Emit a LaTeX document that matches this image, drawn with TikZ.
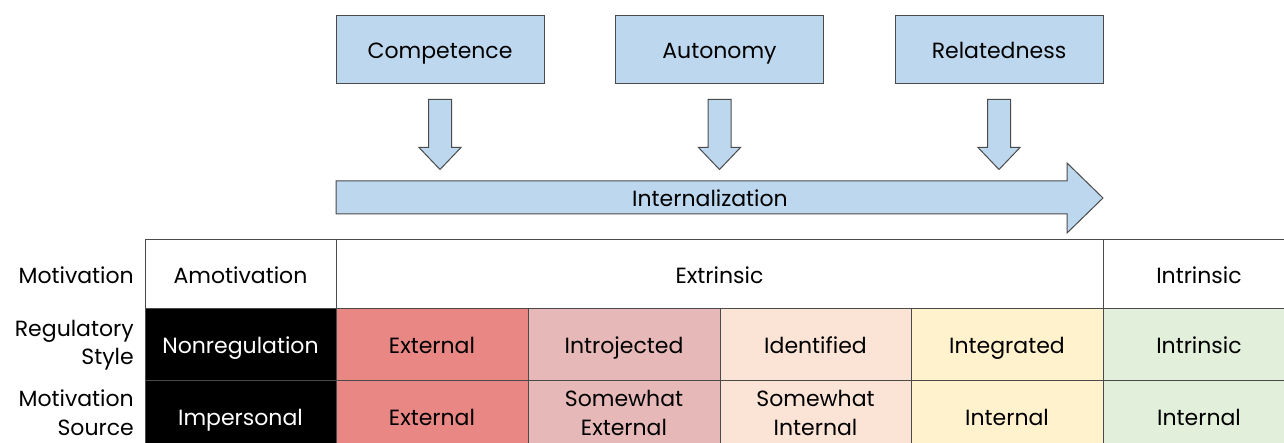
\documentclass[tikz,border=0pt]{standalone}
\usepackage{fontspec}
\setmainfont{Poppins}
\definecolor{edge}{HTML}{4A4A4A}
\definecolor{blueF}{HTML}{BDD7EE}
\definecolor{extF}{HTML}{E88784}
\definecolor{introF}{HTML}{E6B9B8}
\definecolor{identF}{HTML}{FBE4D6}
\definecolor{integF}{HTML}{FFF2CC}
\definecolor{intrF}{HTML}{E2EFDA}
\tikzset{
  lbl/.style={font=\fontsize{22}{29}\selectfont},
  one/.style={text height=20pt, text depth=2pt},
  topbox/.style={draw=edge, fill=blueF, line width=1pt, minimum width=208pt, minimum height=68pt, inner sep=0pt, lbl, one},
  cell/.style={draw=edge, line width=1pt, inner sep=0pt, align=center, lbl},
  blockarrow/.style={draw=edge, fill=blueF, line width=1pt, line join=miter},
  rowlabel/.style={anchor=east, align=right, inner sep=0pt, lbl},
}
\begin{document}
\begin{tikzpicture}[x=1pt,y=-1pt]
\clip (0,0) rectangle (1284,443);
% top boxes
\node[topbox] (comp) at (440,50) {Competence};
\node[topbox] (auto) at (719.5,50) {Autonomy};
\node[topbox] (rel) at (999,50) {Relatedness};
% down block arrows
\foreach \n in {comp,auto,rel}{
  \path (\n.south) coordinate (t\n);
  \draw[blockarrow] ([xshift=-11.5pt,yshift=-15pt]t\n) -- ([xshift=11.5pt,yshift=-15pt]t\n)
    -- ([xshift=11.5pt,yshift=-63pt]t\n) -- ([xshift=21pt,yshift=-63pt]t\n)
    -- ([yshift=-85pt]t\n) -- ([xshift=-21pt,yshift=-63pt]t\n)
    -- ([xshift=-11.5pt,yshift=-63pt]t\n) -- cycle;
}
% internalization arrow
\draw[blockarrow] (336,181) -- (1067,181) -- (1067,163) -- (1103,198) -- (1067,233) -- (1067,214) -- (336,214) -- cycle;
\node[lbl, one, inner sep=0pt] (intl) at (710,198) {Internalization};
% row labels
\node[rowlabel, one] (rl1) at (134,274.5) {Motivation};
\node[rowlabel, font=\fontsize{22}{28}\selectfont] (rl2) at (134,345) {Regulatory\\Style};
\node[rowlabel] (rl3) at (134,413) {Motivation\\Source};
% row 1
\node[cell, one, fill=white, minimum width=191pt, minimum height=69pt] (amot) at (240.5,274.5) {Amotivation};
\node[cell, one, fill=white, minimum width=767pt, minimum height=69pt] (extr) at (719.5,274.5) {Extrinsic};
\node[cell, one, fill=white, minimum width=192pt, minimum height=69pt] (intr) at (1199,274.5) {Intrinsic};
% row 2
\node[cell, one, fill=black, text=white, minimum width=191pt, minimum height=71pt] (nonr) at (240.5,344.5) {Nonregulation};
\node[cell, one, fill=extF, minimum width=192pt, minimum height=71pt] (ext2) at (432,344.5) {External};
\node[cell, one, fill=introF, minimum width=192pt, minimum height=71pt] (intro) at (624,344.5) {Introjected};
\node[cell, one, fill=identF, minimum width=191pt, minimum height=71pt] (ident) at (815.5,344.5) {Identified};
\node[cell, one, fill=integF, minimum width=192pt, minimum height=71pt] (integ) at (1007,344.5) {Integrated};
\node[cell, one, fill=intrF, minimum width=192pt, minimum height=71pt] (intr2) at (1199,344.5) {Intrinsic};
% row 3
\node[cell, one, fill=black, text=white, minimum width=191pt, minimum height=72pt] (imp) at (240.5,416) {Impersonal};
\node[cell, one, fill=extF, minimum width=192pt, minimum height=72pt] (ext3) at (432,416) {External};
\node[cell, fill=introF, minimum width=192pt, minimum height=72pt] (swe) at (624,416) {};
\node[cell, fill=identF, minimum width=191pt, minimum height=72pt] (swi) at (815.5,416) {};
\node[lbl, align=center, inner sep=0pt] (swet) at ([yshift=3pt]swe.center) {Somewhat\\External};
\node[lbl, align=center, inner sep=0pt] (swit) at ([yshift=3pt]swi.center) {Somewhat\\Internal};
\node[cell, one, fill=integF, minimum width=192pt, minimum height=72pt] (int3) at (1007,416) {Internal};
\node[cell, one, fill=intrF, minimum width=192pt, minimum height=72pt] (int4) at (1199,416) {Internal};
\end{tikzpicture}
\end{document}
